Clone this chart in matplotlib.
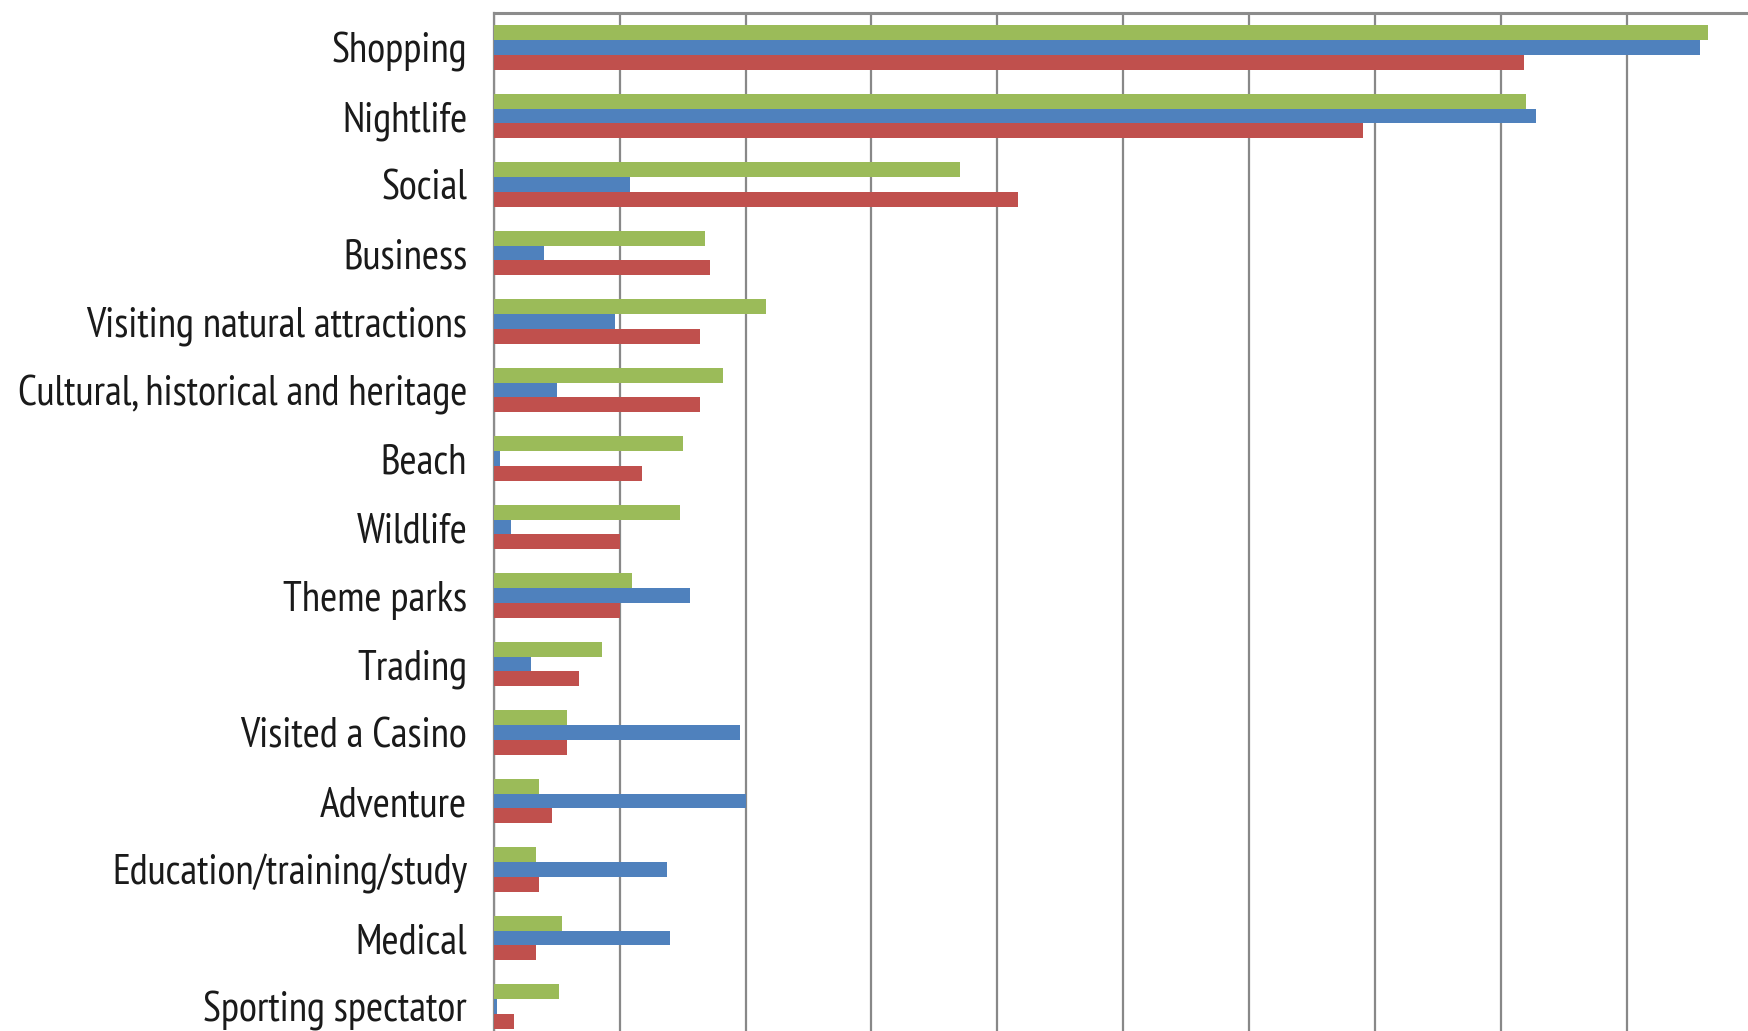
import numpy as np
import matplotlib.pyplot as plt

plt.rcParams['font.family'] = ['PT Sans Narrow', 'DejaVu Sans']

activities = ['Shopping', 'Nightlife', 'Social', 'Business',
              'Visiting natural attractions', 'Cultural, historical and heritage',
              'Beach', 'Wildlife', 'Theme parks', 'Trading', 'Visited a Casino',
              'Adventure', 'Education/training/study', 'Medical', 'Sporting spectator']

# share of visitors per activity (%), three groups
green_vals = [48.2, 41.0, 18.5, 8.4, 10.8, 9.1, 7.5, 7.4, 5.5, 4.3, 2.9, 1.8, 1.7, 2.7, 2.6]
blue_vals = [47.9, 41.4, 5.4, 2.0, 4.8, 2.5, 0.25, 0.7, 7.8, 1.5, 9.8, 10.0, 6.9, 7.0, 0.15]
red_vals = [40.9, 34.5, 20.8, 8.6, 8.2, 8.2, 5.9, 5.0, 5.0, 3.4, 2.9, 2.3, 1.8, 1.7, 0.8]

fig = plt.figure(figsize=(17.48, 10.31), dpi=100)
ax = fig.add_axes([0.2824, -0.0095, 0.7176, 0.9966])

y = np.arange(len(activities))
h = 0.215
ax.barh(y - h, green_vals, height=h, color='#9BBB59', zorder=3)
ax.barh(y, blue_vals, height=h, color='#4F81BD', zorder=3)
ax.barh(y + h, red_vals, height=h, color='#C0504D', zorder=3)

ax.set_ylim(len(activities) - 0.5, -0.5)
ax.set_xlim(0, 49.8)
ax.set_xticks(np.arange(0, 50, 5))
ax.tick_params(axis='x', length=0, labelbottom=False)
ax.xaxis.grid(True, color='#888888', linewidth=1.6, zorder=0)

ax.set_yticks(y)
ax.set_yticklabels(activities, fontsize=30, color='#1a1a1a')
ax.tick_params(axis='y', length=0, pad=19)

for side in ['right', 'bottom']:
    ax.spines[side].set_visible(False)
ax.spines['top'].set_color('#8c8c8c')
ax.spines['top'].set_linewidth(2.2)
ax.spines['left'].set_color('#8c8c8c')
ax.spines['left'].set_linewidth(1.6)

fig.savefig('out.png', dpi=100)
